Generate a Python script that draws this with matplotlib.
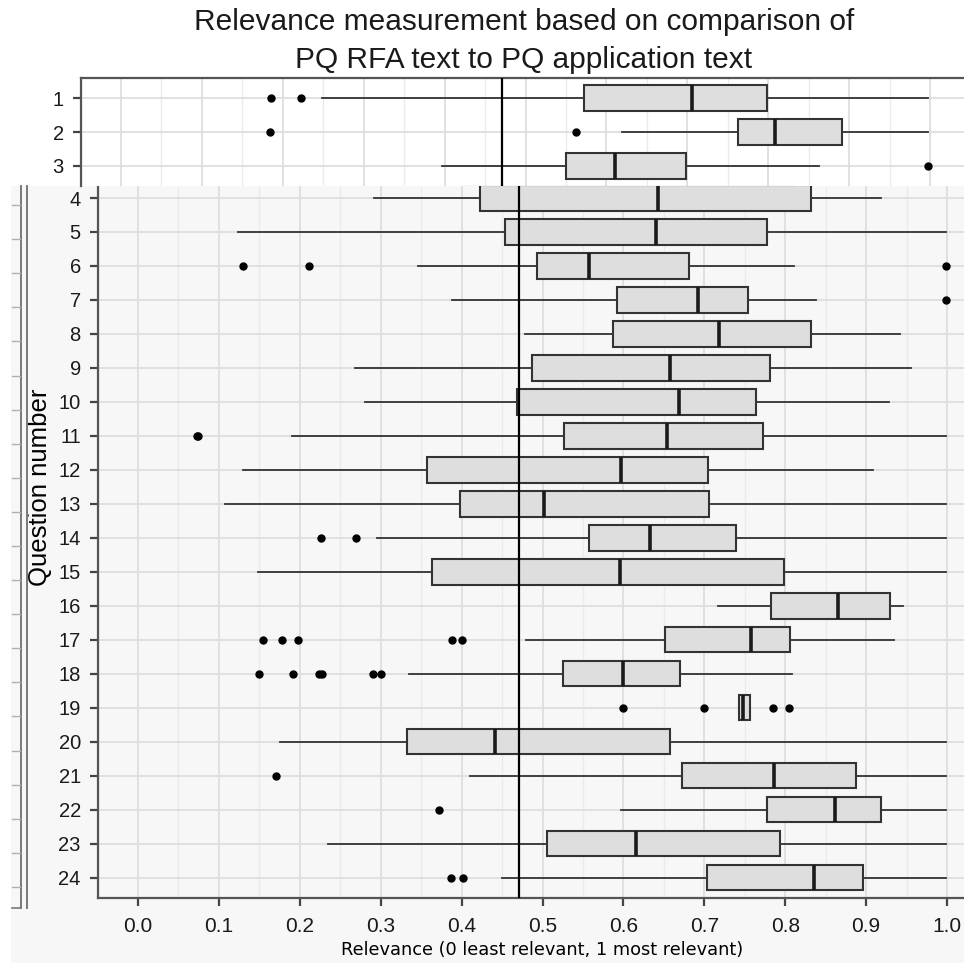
import numpy as np
import matplotlib
matplotlib.use("Agg")
import matplotlib.pyplot as plt
from matplotlib.patches import Rectangle
from matplotlib.lines import Line2D
from matplotlib.ticker import MultipleLocator

plt.rcParams['font.family'] = ['Liberation Sans', 'DejaVu Sans']

# per-question relevance summaries (box = quartiles, whiskers, outlying points)
questions = list(range(1, 25))
q1 = [0.572, 0.763, 0.550, 0.423, 0.454, 0.493, 0.592, 0.587, 0.487, 0.469, 0.527, 0.357,
      0.398, 0.558, 0.363, 0.782, 0.652, 0.525, 0.743, 0.333, 0.673, 0.778, 0.505, 0.703]
median = [0.706, 0.808, 0.611, 0.643, 0.640, 0.557, 0.692, 0.718, 0.658, 0.669, 0.654, 0.597,
          0.502, 0.633, 0.596, 0.865, 0.758, 0.600, 0.748, 0.441, 0.786, 0.862, 0.615, 0.835]
q3 = [0.798, 0.891, 0.698, 0.832, 0.777, 0.681, 0.754, 0.832, 0.781, 0.764, 0.772, 0.704,
      0.706, 0.739, 0.798, 0.930, 0.806, 0.670, 0.757, 0.658, 0.888, 0.918, 0.793, 0.896]
whisker_lo = [0.249, 0.619, 0.397, 0.292, 0.124, 0.346, 0.388, 0.478, 0.268, 0.281, 0.190, 0.130,
              0.107, 0.295, 0.148, 0.717, 0.480, 0.335, 0.743, 0.175, 0.410, 0.597, 0.235, 0.450]
whisker_hi = [0.997, 0.998, 0.863, 0.918, 0.999, 0.811, 0.838, 0.942, 0.955, 0.928, 0.999, 0.908,
              0.999, 0.999, 0.999, 0.945, 0.935, 0.808, 0.757, 0.999, 0.999, 0.999, 0.999, 0.999]
outliers = [[0.186, 0.222], [0.184, 0.562], [0.998], [], [], [0.130, 0.211, 0.999], [0.999], [],
            [], [], [0.073, 0.074], [], [], [0.226, 0.270], [], [],
            [0.155, 0.178, 0.198, 0.388, 0.400], [0.150, 0.192, 0.224, 0.227, 0.290, 0.300],
            [0.600, 0.700, 0.785, 0.805], [], [0.170], [0.372], [], [0.387, 0.402]]
cutoff = 0.471

title = "Relevance measurement based on comparison of\nPQ RFA text to PQ application text"
xlabel = "Relevance (0 least relevant, 1 most relevant)"
ylabel = "Question number"

W, H = 964, 963
fig = plt.figure(figsize=(W / 100, H / 100), dpi=100)
fig.patch.set_facecolor('white')


def rect(x0, x1, y_top, y_bot):
    # pixel box (from top-left) -> figure fraction
    return [x0 / W, 1 - y_bot / H, (x1 - x0) / W, (y_bot - y_top) / H]


def fx(x):
    return x / W


def fy(y):
    return 1 - y / H


stats = []
for i in range(len(questions)):
    stats.append(dict(q1=q1[i], med=median[i], q3=q3[i],
                      whislo=whisker_lo[i], whishi=whisker_hi[i], fliers=outliers[i]))


def draw_panel(ax, face, ylim):
    ax.set_facecolor(face)
    ax.bxp(stats, positions=questions, widths=0.75, orientation='horizontal',
           patch_artist=True, showcaps=False,
           boxprops=dict(facecolor='#dedede', edgecolor='#333333', linewidth=1.5),
           medianprops=dict(color='#1a1a1a', linewidth=2.6, solid_capstyle='butt'),
           whiskerprops=dict(color='#333333', linewidth=1.3),
           flierprops=dict(marker='o', markerfacecolor='black',
                           markeredgecolor='black', markersize=5))
    ax.axvline(cutoff, color='black', lw=1.6, zorder=4)
    ax.set_yticks(questions)
    ax.set_yticklabels([str(q) for q in questions])
    ax.xaxis.set_major_locator(MultipleLocator(0.1))
    ax.xaxis.set_minor_locator(MultipleLocator(0.05))
    ax.set_xlim(-0.05, 1.05)
    ax.set_ylim(*ylim)
    ax.grid(which='major', color='#dedede', lw=1.3)
    ax.grid(which='minor', axis='x', color='#ebebeb', lw=1.0)
    ax.set_axisbelow(True)
    ax.tick_params(axis='both', which='major', length=6, width=1.6, color='#444444',
                   labelsize=14.5, labelcolor='#1a1a1a')
    ax.tick_params(axis='y', pad=6)
    ax.tick_params(axis='x', pad=8, labelsize=15)
    ax.tick_params(which='minor', length=0)
    for side in ('top', 'right', 'bottom', 'left'):
        ax.spines[side].set_color('#555555')
        ax.spines[side].set_linewidth(1.6)


# grey backdrop of the lower screen region
fig.patches.append(Rectangle((fx(11), 0), 1 - fx(11), fy(186), transform=fig.transFigure,
                             facecolor='#f7f7f7', edgecolor='none', zorder=-1))

# left frame edges with small ticks
for xl in (21, 27):
    fig.lines.append(Line2D([fx(xl), fx(xl)], [fy(186), fy(908)], transform=fig.transFigure,
                            color='#7a7a7a', lw=1.4))
fig.lines.append(Line2D([fx(12), fx(21)], [fy(908), fy(908)], transform=fig.transFigure,
                        color='#7a7a7a', lw=1.2))
for yt in np.arange(205, 890, 34.1):
    fig.lines.append(Line2D([fx(12), fx(20)], [fy(yt), fy(yt)], transform=fig.transFigure,
                            color='#b0b0b0', lw=1.0))

# main panel (questions 4-24 visible)
ax = fig.add_axes(rect(97.5, 987.5, 184, 898))
draw_panel(ax, '#f7f7f7', (24.6, 3.588))
ax.spines['top'].set_visible(False)
ax.spines['right'].set_visible(False)
ax.set_xticks(np.arange(0, 1.01, 0.1))
ax.set_xticklabels([f"{v:.1f}" for v in np.arange(0, 1.01, 0.1)])
ax.set_xlim(-0.05, 1.05)
ax.set_xlabel(xlabel, fontsize=12.8, family=['DejaVu Sans'], va='center')
ax.xaxis.set_label_coords(0.4994, (898 - 950) / 714)
ax.set_ylabel(ylabel, fontsize=18.5, va='center')
ax.yaxis.set_label_coords((40 - 97.5) / 890, (898 - 487) / 714)

# upper panel (questions 1-3), drawn on white
top = fig.add_axes(rect(80.5, 970.5, 78, 186))
draw_panel(top, 'white', (3.59, 0.41))
top.spines['bottom'].set_visible(False)
top.spines['right'].set_visible(False)
top.tick_params(axis='x', bottom=False, labelbottom=False)

fig.text(fx(524), fy(41), title, ha='center', va='center', fontsize=21.5,
         linespacing=1.45, color='#1a1a1a')

fig.savefig("out.png", dpi=100)
